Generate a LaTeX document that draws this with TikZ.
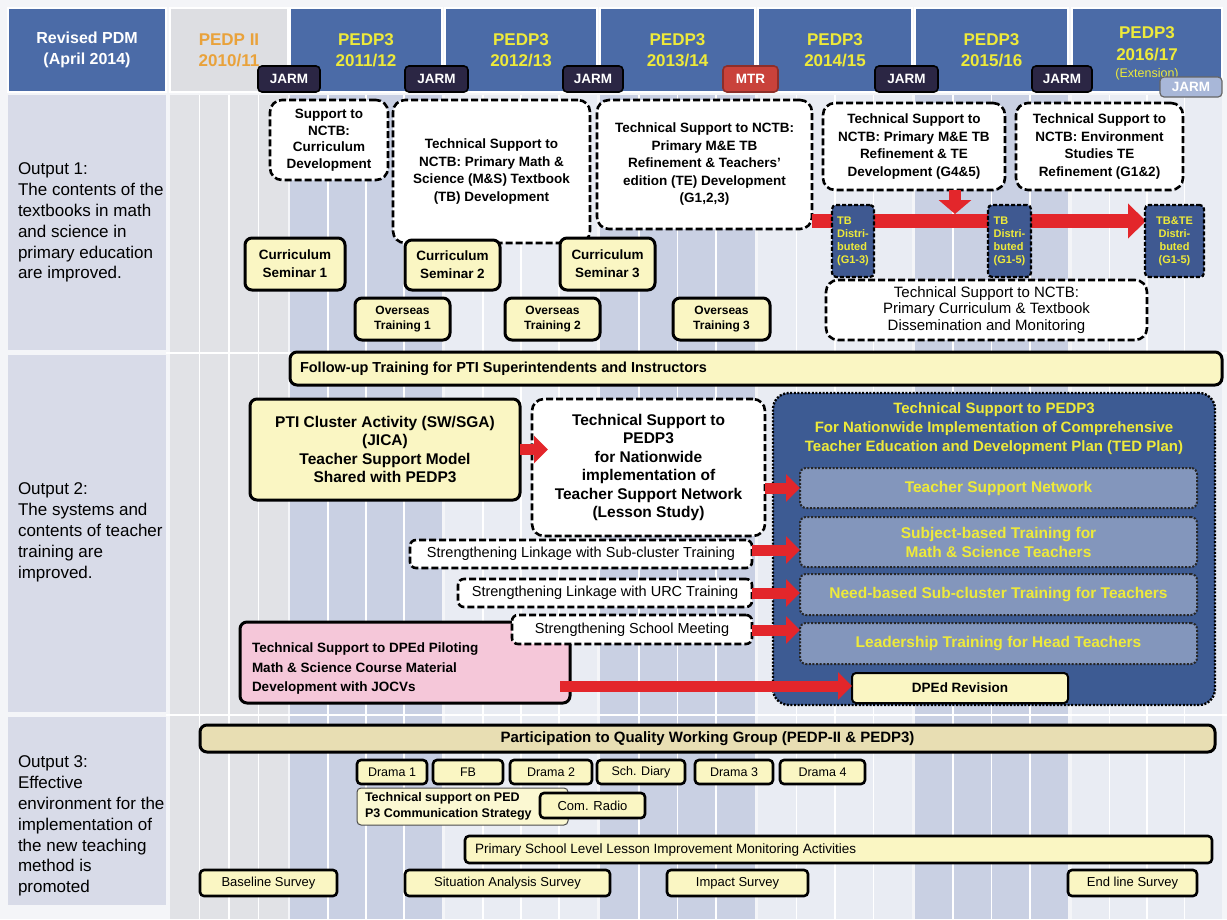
\documentclass[tikz,border=0pt]{standalone}
\usepackage{fontspec}
\setmainfont{Liberation Sans}
\usetikzlibrary{arrows.meta}

\definecolor{pagebg}{HTML}{F4F5F8}
\definecolor{headblue}{HTML}{4B6BA7}
\definecolor{headgray}{HTML}{DDDEE2}
\definecolor{yeltext}{HTML}{EEEA3A}
\definecolor{orgtext}{HTML}{E9A23B}
\definecolor{labelcol}{HTML}{D8DBE8}
\definecolor{graycol}{HTML}{E1E2E6}
\definecolor{bluecol}{HTML}{C9D0E3}
\definecolor{lightcol}{HTML}{E9ECF3}
\definecolor{boxyel}{HTML}{FAF6C3}
\definecolor{paleyel}{HTML}{FBF8D2}
\definecolor{tanfill}{HTML}{E8DEB3}
\definecolor{bigblue}{HTML}{3D5B93}
\definecolor{innerblue}{HTML}{8396BC}
\definecolor{tbblue}{HTML}{3F5991}
\definecolor{pinkfill}{HTML}{F5C7D9}
\definecolor{redarr}{HTML}{E3262B}
\definecolor{tagnavy}{HTML}{2B2644}
\definecolor{tagred}{HTML}{C9423B}
\definecolor{taglight}{HTML}{A8B7D8}

\newcommand\setfs[2]{\fontsize{#1}{#2}\selectfont}
% node placed by its corner coordinates: name, x1, y1, x2, y2, style, text
\newcommand\placebox[7]{\node[#6,minimum width={(#4)-(#2)},minimum height={(#5)-(#3)}] (#1) at ({((#2)+(#4))/2},{((#3)+(#5))/2}) {#7};}

\begin{document}
\begin{tikzpicture}[x=1pt,y=-1pt,
  every node/.style={inner sep=0pt,outer sep=0pt,align=center},
  hdr/.style={fill=headblue,draw=white,line width=1.2pt,text=yeltext,font=\bfseries\setfs{17}{21}},
  tag/.style={fill=tagnavy,draw=black,line width=1.6pt,rounded corners=4pt,text=white,font=\bfseries\setfs{13.5}{15}},
  dbox/.style={fill=white,draw=black,line width=2.6pt,dash pattern=on 7pt off 3pt,rounded corners=12pt,font=\bfseries\setfs{13.5}{17.5}},
  sbox/.style={fill=white,draw=black,line width=2.6pt,dash pattern=on 7pt off 3pt,rounded corners=6pt,font=\setfs{14.5}{16}},
  ybox/.style={fill=boxyel,draw=black,line width=3pt,rounded corners=7pt,font=\bfseries\setfs{13.5}{18}},
  obox/.style={fill=boxyel,draw=black,line width=2.6pt,rounded corners=4pt,font=\setfs{13}{15}},
  tbbox/.style={fill=tbblue,draw=black,line width=2.2pt,dash pattern=on 4pt off 2pt,rounded corners=4pt,text=yeltext,font=\bfseries\setfs{11}{13}},
  dotbox/.style={fill=bigblue,draw=black,line width=2.4pt,dash pattern=on 2pt off 1.6pt,rounded corners=16pt},
  inbox/.style={fill=innerblue,draw=black!85,line width=2pt,dash pattern=on 2pt off 1.6pt,rounded corners=6pt,text=yeltext,font=\bfseries\setfs{15.5}{19}},
  bigred/.style={draw=redarr,line width=14pt,-{Triangle[length=18pt,width=34pt]}},
  smallred/.style={draw=redarr,line width=11pt,-{Triangle[length=14pt,width=27pt]}},
  lbl/.style={anchor=north west,align=left,font=\setfs{17}{20.8}}
]
\useasboundingbox (0,0) rectangle (1227,919);
\fill[pagebg] (0,0) rectangle (1227,919);

% ---- background columns: each year split into four quarters
\foreach \a/\b/\c in {170/288/graycol,290/442/bluecol,445/597/lightcol,600/755/bluecol,758/912/lightcol,915/1068/bluecol,1072/1222/lightcol}{
  \fill[\c] (\a,95) rectangle (\b,919);
  \foreach \k in {1,2,3}{
    \draw[white,line width=1.6pt] ({\a+\k*(\b-\a)/4},95) -- ({\a+\k*(\b-\a)/4},919);
  }
}
\draw[white,line width=2pt] (166,352.5) -- (1227,352.5);
\draw[white,line width=2pt] (166,714.5) -- (1227,714.5);

% ---- left label column
\fill[labelcol] (8,95) rectangle (166,350);
\fill[labelcol] (8,355) rectangle (166,712);
\fill[labelcol] (8,717) rectangle (166,905);

\node[lbl] (out1) at (18,163) {Output 1:\\The contents of the\\textbooks  in math\\and science in\\primary education\\are improved.};
\node[lbl] (out2) at (18,483) {Output 2:\\The systems and\\contents of teacher\\training are\\improved.};
\node[lbl] (out3) at (18,756) {Output 3:\\Effective\\environment  for the\\implementation  of\\the new teaching\\method is\\promoted};

% ---- header
\placebox{hpdm}{8}{8}{166}{92}{hdr,text=white,font=\bfseries\setfs{16}{21}}{Revised PDM\\(April 2014)}
\placebox{h10}{170}{8}{288}{92}{hdr,fill=headgray,text=orgtext}{PEDP II\\2010/11}
\placebox{h11}{290}{8}{442}{92}{hdr}{PEDP3\\2011/12}
\placebox{h12}{445}{8}{597}{92}{hdr}{PEDP3\\2012/13}
\placebox{h13}{600}{8}{755}{92}{hdr}{PEDP3\\2013/14}
\placebox{h14}{758}{8}{912}{92}{hdr}{PEDP3\\2014/15}
\placebox{h15}{915}{8}{1068}{92}{hdr}{PEDP3\\2015/16}
\placebox{h16}{1072}{8}{1222}{92}{hdr,text=white}{}
\node[text=yeltext,font=\bfseries\setfs{17}{22}] (h16t) at (1147,44) {PEDP3\\2016/17};
\node[text=yeltext,font=\setfs{12.5}{14}] (h16e) at (1147,74) {(Extension)};

\placebox{jarm1}{258}{66}{320}{92}{tag}{JARM}
\placebox{jarm2}{405}{66}{468}{92}{tag}{JARM}
\placebox{jarm3}{563}{66}{623}{92}{tag}{JARM}
\placebox{mtr}{723}{66}{778}{92}{tag,fill=tagred,draw=tagred!70!black}{MTR}
\placebox{jarm4}{875}{66}{938}{92}{tag}{JARM}
\placebox{jarm5}{1032}{66}{1092}{92}{tag}{JARM}
\placebox{jarm6}{1160}{77}{1222}{97}{tag,fill=taglight,draw=black!60,line width=1.2pt}{JARM}

% ---- Output 1
\placebox{sup}{270}{100}{388}{180}{dbox,font=\bfseries\setfs{13.5}{16.5}}{Support to\\NCTB:\\Curriculum\\Development}
\placebox{ms}{393}{100}{590}{243}{dbox}{Technical Support to\\NCTB: Primary Math \&\\Science (M\&S) Textbook\\(TB) Development}
\placebox{g123}{597}{100}{812}{229}{dbox}{Technical Support to NCTB:\\Primary M\&E TB\\Refinement \& Teachers'\\edition (TE) Development\\(G1,2,3)}
\placebox{g45}{823}{103}{1005}{190}{dbox}{Technical Support to\\NCTB: Primary M\&E TB\\Refinement \& TE\\Development (G4\&5)}
\placebox{env}{1016}{103}{1183}{190}{dbox}{Technical Support to\\NCTB: Environment\\Studies TE\\Refinement (G1\&2)}

\placebox{sem1}{245}{238}{345}{290}{ybox}{Curriculum\\Seminar 1}
\placebox{sem2}{405}{240}{500}{290}{ybox}{Curriculum\\Seminar 2}
\placebox{sem3}{560}{238}{655}{290}{ybox}{Curriculum\\Seminar 3}
\placebox{ov1}{355}{298}{450}{340}{ybox,font=\bfseries\setfs{12}{15}}{Overseas\\Training 1}
\placebox{ov2}{505}{298}{600}{340}{ybox,font=\bfseries\setfs{12}{15}}{Overseas\\Training 2}
\placebox{ov3}{673}{298}{770}{340}{ybox,font=\bfseries\setfs{12}{15}}{Overseas\\Training 3}

\placebox{dis}{826}{280}{1147}{340}{dbox,font=\setfs{15}{16.5}}{Technical Support to NCTB:\\Primary Curriculum \& Textbook\\Dissemination and Monitoring}

\coordinate (lvl) at (0,221);
\coordinate (tip) at (1146,221);
\draw[bigred] (g123.east |- lvl) -- (tip);
\placebox{tb1}{832}{205}{874}{277}{tbbox,align=left}{TB\\Distri-\\buted\\(G1-3)}
\placebox{tb2}{988}{205}{1031}{277}{tbbox,align=left}{TB\\Distri-\\buted\\(G1-5)}
\placebox{tb3}{1145}{205}{1204}{277}{tbbox}{TB\&TE\\Distri-\\buted\\(G1-5)}
\coordinate (dtip) at (955,214);
\draw[bigred,line width=12pt,-{Triangle[length=14pt,width=32pt]}] (g45.south -| dtip) -- (dtip);

% ---- Output 2
\placebox{fol}{290}{352}{1222}{385}{ybox}{}
\node[anchor=west,font=\bfseries\setfs{14.5}{16}] (folt) at ([xshift=10pt]fol.west) {Follow-up  Training for PTI Superintendents and Instructors};

\placebox{big}{773}{393}{1215}{705}{dotbox}{}
\node[text=yeltext,font=\bfseries\setfs{15}{19}] (bigt) at (994,429) {Technical Support to PEDP3\\For Nationwide Implementation of Comprehensive\\Teacher Education and Development Plan (TED Plan)};
\placebox{in1}{800}{468}{1197}{508}{inbox}{Teacher  Support Network}
\placebox{in2}{800}{517}{1197}{567}{inbox}{Subject-based  Training for\\Math \& Science  Teachers}
\placebox{in3}{800}{574}{1197}{615}{inbox}{Need-based Sub-cluster  Training for Teachers}
\placebox{in4}{800}{623}{1197}{664}{inbox}{Leadership Training for Head Teachers}
\placebox{oped}{852}{673}{1068}{703}{obox,line width=2pt,font=\bfseries\setfs{13.5}{15}}{DPEd Revision}

\placebox{pti}{250}{399}{520}{500}{ybox,font=\bfseries\setfs{15.5}{18.5}}{PTI Cluster Activity  (SW/SGA)\\(JICA)\\Teacher Support Model\\Shared with PEDP3}
\placebox{tsn}{532}{399}{765}{536}{dbox,font=\bfseries\setfs{15.5}{18.5}}{Technical Support to\\PEDP3\\for Nationwide\\implementation  of\\Teacher Support Network\\(Lesson  Study)}
\placebox{sl1}{410}{540}{752}{568}{sbox}{Strengthening Linkage with Sub-cluster Training}
\placebox{sl2}{458}{579}{752}{607}{sbox}{Strengthening Linkage with URC Training}
\placebox{pink}{240}{622}{570}{703}{ybox,fill=pinkfill}{}
\node[anchor=west,align=left,font=\bfseries\setfs{13.5}{19.5}] (pinkt) at ([xshift=12pt,yshift=-6pt]pink.west) {Technical Support to DPEd Piloting\\Math \& Science Course Material\\Development with JOCVs};
\placebox{sl3}{512}{615}{752}{644}{sbox}{Strengthening  School Meeting}

\draw[smallred] (pti.east) -- ([xshift=16pt]tsn.west |- pti.east);
\draw[smallred] (tsn.east |- in1.west) -- (in1.west);
\draw[smallred] (sl1.east |- 0,550) -- (in2.west |- 0,550);
\draw[smallred] (sl2.east) -- (in3.west |- sl2.east);
\draw[smallred] (sl3.east |- 0,630) -- (in4.west |- 0,630);
\draw[smallred] ([xshift=-10pt]pink.east |- 0,686) -- (oped.west |- 0,686);

% ---- Output 3
\placebox{part}{200}{725}{1215}{752}{ybox,fill=tanfill,font=\bfseries\setfs{15}{16}}{Participation to Quality Working Group (PEDP-II \& PEDP3)}
\placebox{d1}{357}{760}{427}{784}{obox,font=\setfs{12.5}{14}}{Drama 1}
\placebox{fb}{433}{760}{503}{784}{obox,font=\setfs{12.5}{14}}{FB}
\placebox{d2}{510}{760}{592}{784}{obox,font=\setfs{12.5}{14}}{Drama 2}
\placebox{sch}{597}{760}{685}{784}{obox,font=\setfs{12.5}{14}}{Sch. Diary}
\placebox{d3}{695}{760}{773}{784}{obox,font=\setfs{12.5}{14}}{Drama 3}
\placebox{d4}{780}{760}{865}{784}{obox,font=\setfs{12.5}{14}}{Drama 4}
\placebox{comm}{357}{788}{568}{825}{obox,fill=paleyel,draw=black!70,line width=1pt}{}
\node[anchor=west,align=left,font=\bfseries\setfs{12.5}{16.5}] (commt) at ([xshift=8pt]comm.west) {Technical support on PED\\P3 Communication Strategy};
\placebox{radio}{540}{793}{645}{818}{obox,font=\setfs{13}{14}}{Com. Radio}
\placebox{psl}{465}{836}{1212}{863}{obox}{}
\node[anchor=west,font=\setfs{13.5}{15}] (pslt) at ([xshift=10pt]psl.west) {Primary School Level  Lesson Improvement  Monitoring Activities};
\placebox{base}{200}{870}{337}{896}{obox}{Baseline Survey}
\placebox{sit}{405}{870}{610}{896}{obox}{Situation Analysis Survey}
\placebox{imp}{667}{870}{808}{896}{obox}{Impact Survey}
\placebox{end}{1068}{870}{1197}{896}{obox}{End line Survey}
\end{tikzpicture}
\end{document}
